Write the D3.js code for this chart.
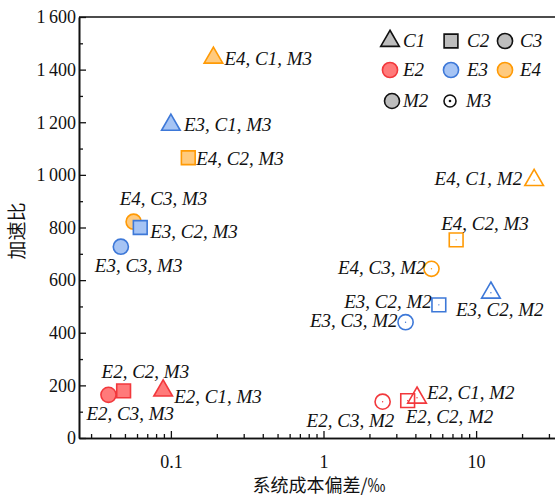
<!DOCTYPE html>
<html>
<head>
<meta charset="utf-8">
<script src="https://cdn.jsdelivr.net/npm/d3@7"></script>
<style>
  html, body { margin: 0; padding: 0; background: #fff; }
  svg { display: block; }
  text { font-family: "Liberation Serif", "Times New Roman", serif; fill: #111; }
  .cjk { font-family: "Noto Sans CJK SC", sans-serif; }
</style>
</head>
<body>
<svg id="chart" width="555" height="498"></svg>
<script>
// ---------- data ----------
const pointLabels = [
  "E4, C1, M3", "E4, C2, M3", "E4, C3, M3",
  "E3, C1, M3", "E3, C2, M3", "E3, C3, M3",
  "E2, C1, M3", "E2, C2, M3", "E2, C3, M3",
  "E4, C1, M2", "E4, C2, M3", "E4, C3, M2",
  "E3, C2, M2", "E3, C2, M2", "E3, C3, M2",
  "E2, C1, M2", "E2, C2, M2", "E2, C3, M2"
];
const costDeviation = [
  0.19, 0.13, 0.057,
  0.10, 0.063, 0.047,
  0.089, 0.049, 0.039,
  24, 7.4, 5.1,
  12.5, 5.7, 3.45,
  4.1, 3.56, 2.44
];
const speedup = [
  1445, 1065, 822,
  1190, 800, 727,
  180, 179, 164,
  980, 753, 643,
  552, 506, 440,
  153, 142, 138
];
const eGroup = ["E4","E4","E4","E3","E3","E3","E2","E2","E2",
                "E4","E4","E4","E3","E3","E3","E2","E2","E2"];
const cShape = ["C1","C2","C3","C1","C2","C3","C1","C2","C3",
                "C1","C2","C3","C1","C2","C3","C1","C2","C3"];
const mType  = ["M3","M3","M3","M3","M3","M3","M3","M3","M3",
                "M2","M2","M2","M2","M2","M2","M2","M2","M2"];

const xMajorTicks = [0.1, 1, 10];
const xTickLabels = ["0.1", "1", "10"];
const yMajorTicks = [0, 200, 400, 600, 800, 1000, 1200, 1400, 1600];
const yTickLabels = ["0", "200", "400", "600", "800", "1\u2009000", "1\u2009200", "1\u2009400", "1\u2009600"];
const xTitle = "系统成本偏差/‰";
const yTitle = "加速比";

const legendShapes = ["C1", "C2", "C3"];
const legendGroups = ["E2", "E3", "E4"];
const legendMarks  = ["M2", "M3"];

// ---------- layout / style ----------
// label offset relative to marker: [dx, dy, anchor]
const labelLayout = [
  [11, 7, "start"], [8, 7, "start"], [-14, -17, "start"],
  [13, 6, "start"], [10, 10, "start"], [-26, 25, "start"],
  [11, 12, "start"], [-22, -13, "start"], [-22, 25, "start"],
  [-12, 5, "end"], [-15, -10, "start"], [-6, 5, "end"],
  [-35, 23, "start"], [-7, 3, "end"], [-8, 5, "end"],
  [10, 1, "start"], [-2, 22, "start"], [-76, 25, "start"]
];
const colors = {
  E2: { fill: "#ff7a7a", stroke: "#f2383c" },
  E3: { fill: "#a6c4f4", stroke: "#3d78d8" },
  E4: { fill: "#ffca7e", stroke: "#ff9a05" }
};
const symbolOf = { C1: d3.symbolTriangle, C2: d3.symbolSquare, C3: d3.symbolCircle };
const sizeOf = { C1: 150, C2: 190, C3: 180 };
const labelFont = 19;

const m = { left: 79, top: 17, right: 568, bottom: 438 };
const svg = d3.select("#chart");

const x = d3.scaleLog().domain([0.025, 40]).range([m.left, m.right]);
const y = d3.scaleLinear().domain([0, 1600]).range([m.bottom, m.top]);

// ---------- axes ----------
const axisColor = "#111";
const xAxis = svg.append("g").attr("transform", `translate(0,${m.bottom})`)
  .call(d3.axisBottom(x).tickValues(xMajorTicks)
        .tickFormat((d, i) => xTickLabels[i]).tickSizeInner(-7).tickSizeOuter(0).tickPadding(17));
const xMinor = [];
[0.01, 0.1, 1, 10].forEach(dec => { for (let k = 2; k <= 9; k++) { const v = dec * k; if (v > 0.025 && v < 40) xMinor.push(v); } });
const xAxisMinor = svg.append("g").attr("transform", `translate(0,${m.bottom})`)
  .call(d3.axisBottom(x).tickValues(xMinor).tickFormat("").tickSizeInner(-4).tickSizeOuter(0));
const yAxis = svg.append("g").attr("transform", `translate(${m.left},0)`)
  .call(d3.axisLeft(y).tickValues(yMajorTicks)
        .tickFormat((d, i) => yTickLabels[i]).tickSizeInner(-7).tickSizeOuter(0).tickPadding(3));
const yMinor = d3.range(100, 1600, 200);
const yAxisMinor = svg.append("g").attr("transform", `translate(${m.left},0)`)
  .call(d3.axisLeft(y).tickValues(yMinor).tickFormat("").tickSizeInner(-4).tickSizeOuter(0));

[xAxis, xAxisMinor, yAxis, yAxisMinor].forEach(g => {
  g.attr("font-family", null);
  g.select(".domain").attr("stroke", axisColor).attr("stroke-width", 1.6);
  g.selectAll(".tick line").attr("stroke", axisColor).attr("stroke-width", 1.3);
  g.selectAll(".tick text").attr("font-size", 18).attr("fill", "#111");
});
// top / right frame
svg.append("line").attr("x1", m.left).attr("x2", m.right).attr("y1", m.top).attr("y2", m.top)
  .attr("stroke", axisColor).attr("stroke-width", 1.6);
svg.append("line").attr("x1", m.right).attr("x2", m.right).attr("y1", m.top).attr("y2", m.bottom)
  .attr("stroke", axisColor).attr("stroke-width", 1.6);

// titles
svg.append("text").attr("class", "cjk").attr("x", 319).attr("y", 492)
  .attr("text-anchor", "middle").attr("font-size", 18).attr("fill", "#222").text(xTitle);
svg.append("text").attr("class", "cjk")
  .attr("transform", "translate(24,231) rotate(-90)")
  .attr("text-anchor", "middle").attr("font-size", 19).attr("fill", "#222").text(yTitle);

// ---------- points ----------
const idx = d3.range(pointLabels.length);
const pts = svg.append("g").selectAll("g").data(idx).join("g")
  .attr("transform", i => `translate(${x(costDeviation[i])},${y(speedup[i])})`);
pts.append("path")
  .attr("d", i => d3.symbol().type(symbolOf[cShape[i]]).size(sizeOf[cShape[i]])())
  .attr("fill", i => mType[i] === "M3" ? colors[eGroup[i]].fill : "none")
  .attr("stroke", i => colors[eGroup[i]].stroke)
  .attr("stroke-width", 1.6);
pts.filter(i => mType[i] === "M2").append("circle")
  .attr("r", 0.7).attr("fill", i => colors[eGroup[i]].stroke);

svg.append("g").selectAll("text").data(idx).join("text")
  .attr("x", i => x(costDeviation[i]) + labelLayout[i][0])
  .attr("y", i => y(speedup[i]) + labelLayout[i][1])
  .attr("text-anchor", i => labelLayout[i][2])
  .attr("font-size", labelFont).attr("font-style", "italic").attr("fill", "#111")
  .text(i => pointLabels[i]);

// ---------- legend ----------
const lg = svg.append("g");
const legX = [390, 451, 505];
const legTX = [403, 467, 520];
const rowY = [41, 70, 101];
legendShapes.forEach((c, j) => {
  lg.append("path").attr("transform", `translate(${legX[j]},${rowY[0]})`)
    .attr("d", d3.symbol().type(symbolOf[c]).size(sizeOf[c])())
    .attr("fill", "#bdbdbd").attr("stroke", "#111").attr("stroke-width", 1.6);
  lg.append("text").attr("x", legTX[j]).attr("y", rowY[0] + 6).attr("font-size", labelFont)
    .attr("font-style", "italic").text(c);
});
legendGroups.forEach((e, j) => {
  lg.append("path").attr("transform", `translate(${legX[j]},${rowY[1]})`)
    .attr("d", d3.symbol().type(d3.symbolCircle).size(180)())
    .attr("fill", colors[e].fill).attr("stroke", colors[e].stroke).attr("stroke-width", 1.6);
  lg.append("text").attr("x", legTX[j]).attr("y", rowY[1] + 6).attr("font-size", labelFont)
    .attr("font-style", "italic").text(e);
});
legendMarks.forEach((mk, j) => {
  const cx = j === 0 ? 392 : 450;
  if (mk === "M2") {
    lg.append("circle").attr("cx", cx).attr("cy", rowY[2]).attr("r", 7.5)
      .attr("fill", "#bdbdbd").attr("stroke", "#111").attr("stroke-width", 1.6);
  } else {
    lg.append("circle").attr("cx", cx).attr("cy", rowY[2]).attr("r", 6)
      .attr("fill", "none").attr("stroke", "#111").attr("stroke-width", 1.6);
    lg.append("circle").attr("cx", cx).attr("cy", rowY[2]).attr("r", 1.3).attr("fill", "#111");
  }
  lg.append("text").attr("x", j === 0 ? 403 : 466).attr("y", rowY[2] + 6).attr("font-size", labelFont)
    .attr("font-style", "italic").text(mk);
});
</script>
</body>
</html>
